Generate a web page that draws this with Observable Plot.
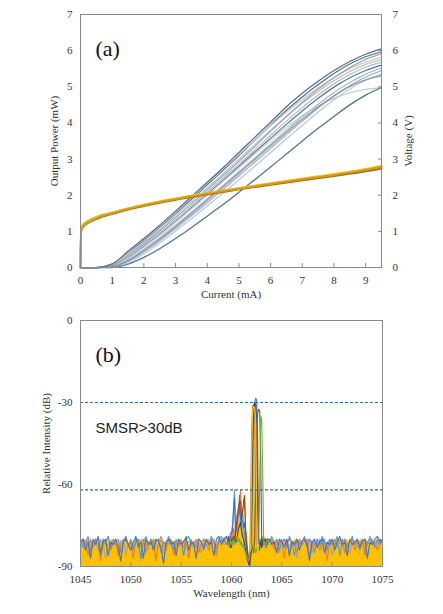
<!DOCTYPE html>
<html><head><meta charset="utf-8">
<script src="https://cdn.jsdelivr.net/npm/d3@7"></script>
<script src="https://cdn.jsdelivr.net/npm/@observablehq/plot@0.6"></script>
<style>
body{margin:0;background:#fff;}
#a,#b{display:block;line-height:0;}
svg{display:block;font-family:'Liberation Serif','Times New Roman',serif !important;font-size:11px !important;}
</style>
</head><body><div id="a"></div><div id="b"></div>
<script>
// ---------- Panel (a): L-I-V ----------
const current = [0,0.5,1,1.5,2,2.5,3,3.5,4,4.5,5,5.5,6,6.5,7,7.5,8,8.5,9,9.5];
const power1  = [0,0,0.1,0.45,0.8,1.17,1.56,1.96,2.36,2.76,3.18,3.6,4.02,4.45,4.82,5.15,5.45,5.7,5.9,6.05];
const power2  = [0,0,0.08,0.41,0.75,1.11,1.49,1.89,2.29,2.69,3.1,3.52,3.94,4.35,4.72,5.06,5.37,5.63,5.83,5.97];
const power3  = [0,0,0.09,0.43,0.78,1.14,1.53,1.93,2.33,2.73,3.13,3.53,3.92,4.3,4.65,4.97,5.25,5.5,5.68,5.82];
const power4  = [0,0,0.07,0.37,0.7,1.05,1.43,1.82,2.21,2.6,3.0,3.4,3.8,4.18,4.54,4.87,5.17,5.42,5.62,5.75];
const power5  = [0,0,0.06,0.33,0.66,1.01,1.38,1.76,2.15,2.54,2.94,3.35,3.77,4.18,4.57,4.93,5.25,5.53,5.76,5.92];
const power6  = [0,0,0.05,0.3,0.62,0.96,1.32,1.7,2.08,2.47,2.86,3.26,3.66,4.05,4.42,4.77,5.08,5.34,5.54,5.68];
const power7  = [0,0,0.04,0.27,0.58,0.91,1.27,1.65,2.03,2.41,2.8,3.19,3.58,3.96,4.33,4.68,4.99,5.25,5.45,5.6];
const power8  = [0,0,0.04,0.25,0.56,0.89,1.25,1.62,2.0,2.38,2.76,3.14,3.52,3.88,4.2,4.47,4.68,4.83,4.93,4.98];
const power9  = [0,0,0.03,0.21,0.5,0.82,1.17,1.53,1.9,2.27,2.65,3.03,3.42,3.8,4.17,4.52,4.84,5.12,5.35,5.52];
const power10 = [0,0,0.02,0.19,0.47,0.78,1.13,1.49,1.86,2.23,2.61,2.99,3.37,3.74,4.1,4.44,4.75,5.01,5.19,5.3];
const power11 = [0,0,0.02,0.16,0.43,0.74,1.08,1.43,1.79,2.16,2.54,2.92,3.3,3.68,4.05,4.41,4.74,5.03,5.27,5.45];
const power12 = [0,0,0.01,0.13,0.38,0.68,1.01,1.35,1.7,2.06,2.43,2.8,3.18,3.56,3.93,4.3,4.64,4.94,5.18,5.35];
const power13 = [0,0,0,0.09,0.28,0.52,0.8,1.1,1.42,1.74,2.08,2.43,2.78,3.14,3.5,3.85,4.18,4.5,4.77,4.98];
const powerSeries = [power7, power2, power3, power4, power8, power6, power9, power11, power12, power5, power10, power1, power13];
const powerColors = ["#5f7592","#56718f","#c9c9c9","#c2c2c2","#cdcdcd","#a8bedb","#a3b9d8","#99b0d0","#b5c8e2","#a6a6a6","#959595","#4f7196","#4f7196"];

const voltCurrent = [0,0.02,0.05,0.1,0.2,0.4,0.7,1,1.5,2,2.5,3,3.5,4,4.5,5,6,7,8,9,9.5];
const volt1 = [0,1.0,1.1,1.16,1.23,1.32,1.43,1.5,1.62,1.72,1.81,1.89,1.97,2.04,2.11,2.18,2.31,2.44,2.56,2.7,2.78];
const volt2 = [0,1.02,1.12,1.18,1.25,1.34,1.45,1.52,1.64,1.74,1.83,1.91,1.99,2.06,2.13,2.2,2.33,2.46,2.59,2.73,2.82];
const volt3 = [0,0.98,1.08,1.14,1.21,1.3,1.41,1.48,1.6,1.7,1.79,1.87,1.95,2.02,2.09,2.16,2.29,2.41,2.53,2.66,2.74];
const volt4 = [0,1.06,1.15,1.21,1.27,1.36,1.46,1.52,1.63,1.73,1.82,1.9,1.98,2.05,2.12,2.19,2.32,2.45,2.57,2.71,2.8];
const voltSeries = [volt4, volt3, volt2, volt1];
const voltColors = ["#b8b23c","#a8641c","#f2c41a","#d39e14"];

const currentTicks = [0,1,2,3,4,5,6,7,8,9];
const powerTicks = [0,1,2,3,4,5,6,7];

// ---------- Panel (b): spectra ----------
const wlLeft = d3.range(59).map(i => 1045 + 0.25 * i);
const wlPeak = d3.range(41).map(i => 1059.6 + 0.1 * i);
const wlRight = d3.range(46).map(i => 1063.75 + 0.25 * i);

const yellowLeft = [-80.5,-81,-80,-82,-80.5,-81,-80,-82,-80,-81,-80.5,-82,-80.5,-80,-81,-82,-80.5,-81,-80,-82,
-80.5,-81,-82,-80.5,-80,-81,-80.5,-82,-81,-80.5,-80,-82,-80.5,-81,-82,-80.5,-80,-81,-80.5,-82,
-81,-80.5,-80,-82,-80.5,-81,-80.5,-80,-82,-81,-80.5,-80,-81,-80.5,-82,-80,-80.5,-79.5,-79.5];
const yellowPeak = [-82,-81,-82,-81,-80,-79,-78,-79,-77,-76,-75,-74,-73,-72,-75,-74,-76,-78,-81,-84,-88,-90,-90,-84,-50,-33,-31.5,-32,-36,-70,-85,-82,-81,-80.5,-82,-81,-80.5,-82,-81,-80.5,-82];
const yellowRight = [-80.5,-81,-80,-82,-80.5,-81,-80,-80.5,-82,-81,-80.5,-80,-81,-80.5,-82,-80.5,-80,-81,-80.5,-82,
-81,-80,-80.5,-82,-80.5,-81,-80,-80.5,-81,-82,-80.5,-80,-81,-80.5,-82,-81,-80.5,-80,-81,-80.5,
-82,-80.5,-81,-80,-80.5,-81];

const blueLeft = [-81,-80,-84,-81,-87,-80,-82,-79,-85,-81,-80,-86,-81,-82,-80,-83,-88,-81,-80,-82,
-84,-81,-79,-83,-81,-87,-80,-82,-81,-84,-80,-81,-83,-89,-81,-80,-82,-81,-86,-80,
-82,-81,-79,-84,-81,-82,-87,-80,-81,-83,-80,-82,-81,-86,-80,-79,-82,-80,-79];
const bluePeak = [-80,-79,-81,-80,-78,-77,-70,-65,-78,-74,-72,-70,-64,-75,-72,-70,-76,-74,-79,-83,-86,-88,-89,-86,-60,-35,-31,-30,-28.5,-29,-45,-82,-84,-81,-80,-82,-81,-80,-83,-81,-80];
const blueRight = [-80,-82,-81,-85,-80,-81,-83,-80,-86,-81,-82,-80,-84,-81,-80,-82,-88,-81,-80,-83,
-81,-80,-85,-81,-82,-80,-84,-81,-79,-82,-81,-86,-80,-82,-81,-80,-83,-81,-80,-87,
-81,-82,-80,-79,-81,-80];

const orangeLeft = [-82,-80,-81,-86,-80,-83,-81,-80,-88,-81,-82,-79,-84,-81,-80,-86,-82,-81,-79,-83,
-81,-87,-80,-82,-81,-80,-85,-81,-82,-80,-88,-81,-79,-82,-84,-80,-81,-86,-82,-80,
-81,-83,-80,-87,-81,-82,-80,-85,-81,-80,-82,-84,-80,-81,-86,-80,-81,-80,-82];
const orangePeak = [-81,-80,-82,-79,-80,-78,-76,-80,-75,-72,-70,-68,-66,-62,-72,-70,-68,-65,-77,-80,-84,-87,-88,-70,-40,-31,-31.5,-33,-55,-80,-83,-81,-80,-82,-81,-79,-82,-80,-81,-83,-80];
const orangeRight = [-81,-80,-84,-81,-82,-80,-87,-81,-80,-83,-81,-85,-80,-82,-81,-80,-86,-81,-82,-80,
-84,-81,-80,-88,-81,-82,-80,-83,-81,-80,-85,-82,-81,-80,-84,-81,-82,-80,-86,-81,
-80,-82,-81,-84,-80,-81];

const greyLeft = [-83,-81,-82,-80,-85,-82,-81,-84,-80,-82,-87,-81,-83,-80,-82,-84,-81,-80,-86,-82,
-81,-83,-80,-82,-88,-81,-82,-84,-80,-81,-83,-82,-80,-85,-81,-82,-80,-84,-81,-83,
-80,-86,-82,-81,-80,-83,-81,-82,-85,-80,-81,-83,-82,-80,-84,-81,-80,-82,-81];
const greyPeak = [-82,-81,-80,-83,-80,-79,-78,-81,-77,-76,-74,-72,-71,-69,-74,-76,-78,-80,-82,-84,-86,-88,-89,-80,-45,-36,-33,-34,-60,-82,-81,-80,-82,-81,-80,-83,-81,-82,-80,-81,-82];
const greyRight = [-82,-81,-83,-80,-85,-81,-82,-80,-84,-82,-81,-87,-80,-82,-81,-83,-80,-85,-81,-82,
-80,-84,-81,-83,-80,-86,-82,-81,-80,-83,-81,-82,-85,-80,-81,-83,-82,-80,-84,-81,
-82,-80,-83,-81,-82,-81];

const lightBlueLeft = [-80,-83,-81,-79,-84,-81,-80,-82,-86,-80,-81,-79,-83,-81,-82,-80,-85,-81,-79,-82,
-80,-84,-81,-80,-87,-81,-79,-82,-80,-83,-81,-80,-85,-81,-82,-79,-81,-84,-80,-82,
-81,-86,-80,-79,-82,-81,-83,-80,-81,-84,-80,-82,-79,-81,-83,-80,-79,-81,-80];
const lightBluePeak = [-80,-81,-79,-78,-77,-75,-68,-62,-74,-77,-73,-71,-69,-72,-75,-73,-76,-78,-80,-83,-85,-87,-88,-87,-84,-60,-38,-34,-32,-36,-62,-83,-81,-80,-82,-81,-79,-82,-80,-81,-80];
const lightBlueRight = [-81,-79,-82,-80,-84,-81,-80,-83,-79,-81,-86,-80,-82,-81,-79,-83,-80,-81,-85,-80,
-82,-79,-81,-84,-80,-81,-82,-79,-86,-81,-80,-83,-81,-79,-82,-80,-84,-81,-80,-82,
-79,-81,-83,-80,-82,-80];

const greenPeak = [-82,-81,-83,-80,-82,-81,-80,-82,-81,-80,-79,-81,-80,-82,-81,-83,-82,-84,-85,-86,-87,-88,-86,-84,-83,-82,-84,-83,-85,-84,-82,-84,-60,-35,-36,-55,-82,-81,-83,-80,-81];
const brownPeak = [-81,-82,-80,-81,-83,-80,-79,-81,-78,-75,-72,-69,-67,-66,-73,-70,-66,-64,-76,-81,-85,-88,-89,-86,-84,-83,-85,-80,-60,-40,-34,-32.5,-33,-50,-80,-82,-81,-80,-82,-81,-80];
const darkBluePeak = [-82,-80,-81,-83,-80,-81,-79,-82,-80,-81,-78,-76,-75,-74,-77,-79,-80,-82,-84,-86,-88,-89,-90,-85,-70,-45,-34,-30,-31,-38,-70,-84,-82,-81,-83,-80,-82,-81,-80,-82,-81];

const smsrLevels = [-30, -62];
const wavelengthTicks = [1045,1050,1055,1060,1065,1070,1075];
const intensityTicks = [0,-30,-60,-90];

// ---------- build ----------
const lineData = (xs, ys, id) => xs.map((x, i) => ({x, y: ys[i], id}));
const liRows = powerSeries.flatMap((s, k) => lineData(current, s, k));
const vRows = voltSeries.flatMap((s, k) => lineData(voltCurrent, s, k));

const fontStyle = {fontFamily: "'Liberation Serif', 'Times New Roman', serif", fontSize: "11px", color: "#333", background: "#fff"};

const plotA = Plot.plot({
  width: 443, height: 305,
  marginLeft: 80, marginRight: 62, marginTop: 14, marginBottom: 38,
  style: fontStyle,
  x: {domain: [0, 9.5]},
  y: {domain: [0, 7]},
  marks: [
    Plot.line(liRows, {x: "x", y: "y", z: "id", stroke: d => powerColors[d.id], strokeWidth: 1.25, curve: "monotone-x"}),
    Plot.line(vRows, {x: "x", y: "y", z: "id", stroke: d => voltColors[d.id], strokeWidth: 1.9, curve: "monotone-x"}),
    Plot.frame({stroke: "#8a8a8a", strokeWidth: 1}),
    Plot.axisX(currentTicks, {tickSize: -4, tickPadding: 13, stroke: "#8a8a8a", label: "Current (mA)", labelAnchor: "center", labelArrow: "none", labelOffset: 30}),
    Plot.axisY(powerTicks, {anchor: "left", tickSize: 0, tickPadding: 8, label: "Output Power (mW)", labelAnchor: "center", labelArrow: "none", labelOffset: 30}),
    Plot.axisY(powerTicks, {anchor: "right", tickSize: -4, tickPadding: 15, stroke: "#8a8a8a", label: "Voltage (V)", labelAnchor: "center", labelArrow: "none", labelOffset: 30}),
    Plot.text(["(a)"], {frameAnchor: "top-left", dx: 15, dy: 26, textAnchor: "start", fontSize: 22, fill: "#111"})
  ]
});
document.getElementById("a").append(plotA);

const specRows = (left, peak, right, id) => [
  ...(left ? lineData(wlLeft, left, id) : []),
  ...lineData(wlPeak, peak, id),
  ...(right ? lineData(wlRight, right, id) : [])
];
const yellowRows = specRows(yellowLeft, yellowPeak, yellowRight, "yellow");
const otherRows = [
  ...specRows(greyLeft, greyPeak, greyRight, "#a5a5a5"),
  ...specRows(orangeLeft, orangePeak, orangeRight, "#ed7d31"),
  ...specRows(lightBlueLeft, lightBluePeak, lightBlueRight, "#5b9bd5"),
  ...specRows(blueLeft, bluePeak, blueRight, "#4472c4"),
  ...specRows(null, darkBluePeak, null, "#264478"),
  ...specRows(null, brownPeak, null, "#9e480e"),
  ...specRows(null, greenPeak, null, "#70ad47")
];

const plotB = Plot.plot({
  width: 443, height: 309,
  marginLeft: 80, marginRight: 61, marginTop: 15, marginBottom: 48,
  style: fontStyle,
  x: {domain: [1045, 1075]},
  y: {domain: [-90, 0]},
  color: {type: "identity"},
  marks: [
    Plot.areaY(yellowRows, {x: "x", y1: -90, y2: "y", fill: "#ffc000"}),
    Plot.line(otherRows, {x: "x", y: "y", z: "id", stroke: "id", strokeWidth: 1.1}),
    Plot.line(yellowRows.filter(d => d.x > 1061.8 && d.x < 1062.7), {x: "x", y: "y", stroke: "#ffc000", strokeWidth: 1.2}),
    Plot.ruleY(smsrLevels, {stroke: "#2f6a92", strokeWidth: 1.2, strokeDasharray: "3,2"}),
    Plot.frame({stroke: "#8a8a8a", strokeWidth: 1}),
    Plot.axisX(wavelengthTicks, {tickSize: -4, tickPadding: 13, stroke: "#8a8a8a", tickFormat: d => `${d}`, label: "Wavelength (nm)", labelAnchor: "center", labelArrow: "none", labelOffset: 30}),
    Plot.axisY(intensityTicks, {anchor: "left", tickSize: 0, tickPadding: 8, tickFormat: d => `${d}`, label: "Relative Intensity (dB)", labelAnchor: "center", labelArrow: "none", labelOffset: 38}),
    Plot.text(["(b)"], {frameAnchor: "top-left", dx: 15, dy: 26, textAnchor: "start", fontSize: 22, fill: "#111"}),
    Plot.text(["SMSR>30dB"], {frameAnchor: "top-left", dx: 15, dy: 102, textAnchor: "start", fontSize: 15, fontFamily: "'Liberation Sans', Arial, sans-serif", fill: "#222"})
  ]
});
document.getElementById("b").append(plotB);
</script></body></html>
